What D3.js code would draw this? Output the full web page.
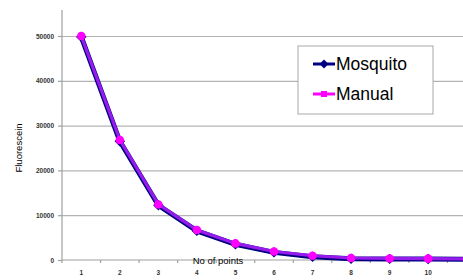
<!DOCTYPE html>
<html>
<head>
<meta charset="utf-8">
<script src="https://cdn.jsdelivr.net/npm/d3@7"></script>
<style>
  body { margin: 0; background: #fff; }
  svg { display: block; font-family: 'Liberation Sans', Arial, sans-serif; }
  .grid line { stroke: #b4b4b4; stroke-width: 1.2; }
  .grid .domain { display: none; }
  .axis path, .axis line { stroke: #a0a0a0; stroke-width: 1.2; }
  .axis text { font-size: 6.5px; font-weight: bold; fill: #333; }
</style>
</head>
<body>
<div id="chart"></div>
<script>
var categories = ['1', '2', '3', '4', '5', '6', '7', '8', '9', '10', '11'];
var mosquito = [49800, 26500, 12200, 6500, 3500, 1700, 750, 300, 250, 200, 150];
var manual = [50000, 26800, 12400, 6700, 3700, 1900, 950, 450, 350, 300, 250];
var yTicks = [0, 10000, 20000, 30000, 40000, 50000];
var seriesNames = ['Mosquito', 'Manual'];

var width = 463, height = 280;
var margin = { top: 10, right: -23, bottom: 20, left: 62 };

var svg = d3.select('#chart')
  .append('svg')
  .attr('width', width)
  .attr('height', height);

//--- SCALES
var scaleX = d3.scaleBand()
  .domain(categories)
  .range([margin.left, width - margin.right]);

var scaleY = d3.scaleLinear()
  .domain([0, 55800])
  .range([height - margin.bottom, margin.top]);

//--- GRID
svg.append('g')
  .attr('class', 'grid')
  .attr('transform', 'translate(' + margin.left + ',0)')
  .call(d3.axisLeft(scaleY).tickValues(yTicks.slice(1)).tickSize(-(width - margin.left)).tickFormat(''));

//--- X AXIS
var axisX = svg.append('g')
  .attr('class', 'axis')
  .attr('transform', 'translate(0,' + scaleY(0) + ')')
  .call(d3.axisBottom(scaleX).tickSize(0).tickPadding(10));
axisX.select('.domain').attr('d', 'M' + margin.left + ',0H' + width);

// small ticks between categories
axisX.selectAll('.bound')
  .data(categories)
  .enter().append('line')
  .attr('x1', function(d) { return scaleX(d); })
  .attr('x2', function(d) { return scaleX(d); })
  .attr('y1', 0).attr('y2', 3)
  .attr('stroke', '#a0a0a0');

//--- Y AXIS
var axisY = svg.append('g')
  .attr('class', 'axis')
  .attr('transform', 'translate(' + margin.left + ',0)')
  .call(d3.axisLeft(scaleY).tickValues(yTicks).tickSize(4).tickPadding(4).tickFormat(d3.format('d')));
axisY.select('.domain').attr('d', 'M0,' + margin.top + 'V' + scaleY(0));

//--- AXIS TITLES
svg.append('text')
  .attr('transform', 'translate(22,' + 148 + ') rotate(-90)')
  .attr('text-anchor', 'middle')
  .style('font-size', '9.5px')
  .text('Fluorescein');

svg.append('text')
  .attr('x', 218)
  .attr('y', 264)
  .attr('text-anchor', 'middle')
  .style('font-size', '9.5px')
  .text('No of points');

//--- LINES
var cx = function(d, i) { return scaleX(categories[i]) + scaleX.bandwidth() / 2; };
var line = d3.line().x(cx).y(function(d) { return scaleY(d); });

svg.append('path')
  .datum(mosquito)
  .attr('d', line)
  .attr('fill', 'none')
  .attr('stroke', '#000080')
  .attr('stroke-width', 5);

svg.selectAll('.diamond')
  .data(mosquito)
  .enter().append('path')
  .attr('d', d3.symbol().type(d3.symbolDiamond2).size(70))
  .attr('transform', function(d, i) { return 'translate(' + cx(d, i) + ',' + scaleY(d) + ')'; })
  .attr('fill', '#000080');

svg.append('path')
  .datum(manual)
  .attr('d', line)
  .attr('fill', 'none')
  .attr('stroke', '#b020ff')
  .attr('stroke-opacity', 0.85)
  .attr('stroke-width', 3.2);

svg.selectAll('.square')
  .data(manual)
  .enter().append('circle')
  .attr('cx', cx)
  .attr('cy', function(d) { return scaleY(d); })
  .attr('r', 4.3)
  .attr('fill', '#ff00ff');

//--- LEGEND
var legend = svg.append('g').attr('transform', 'translate(298,46)');
legend.append('rect')
  .attr('width', 135).attr('height', 68)
  .attr('fill', '#fff')
  .attr('stroke', '#a8a8a8');

var colors = ['#000080', '#ff00ff'];
seriesNames.forEach(function(name, i) {
  var y = 18 + i * 30;
  legend.append('line')
    .attr('x1', 15).attr('x2', 37)
    .attr('y1', y).attr('y2', y)
    .attr('stroke', colors[i]).attr('stroke-width', 3);
  if (i === 0) {
    legend.append('path')
      .attr('d', d3.symbol().type(d3.symbolDiamond2).size(50))
      .attr('transform', 'translate(26,' + y + ')')
      .attr('fill', colors[i]);
  } else {
    legend.append('rect')
      .attr('x', 23).attr('y', y - 3).attr('width', 6).attr('height', 6)
      .attr('fill', colors[i]);
  }
  legend.append('text')
    .attr('x', 38).attr('y', y + 6)
    .style('font-size', '17.5px')
    .text(name);
});
</script>
</body>
</html>
